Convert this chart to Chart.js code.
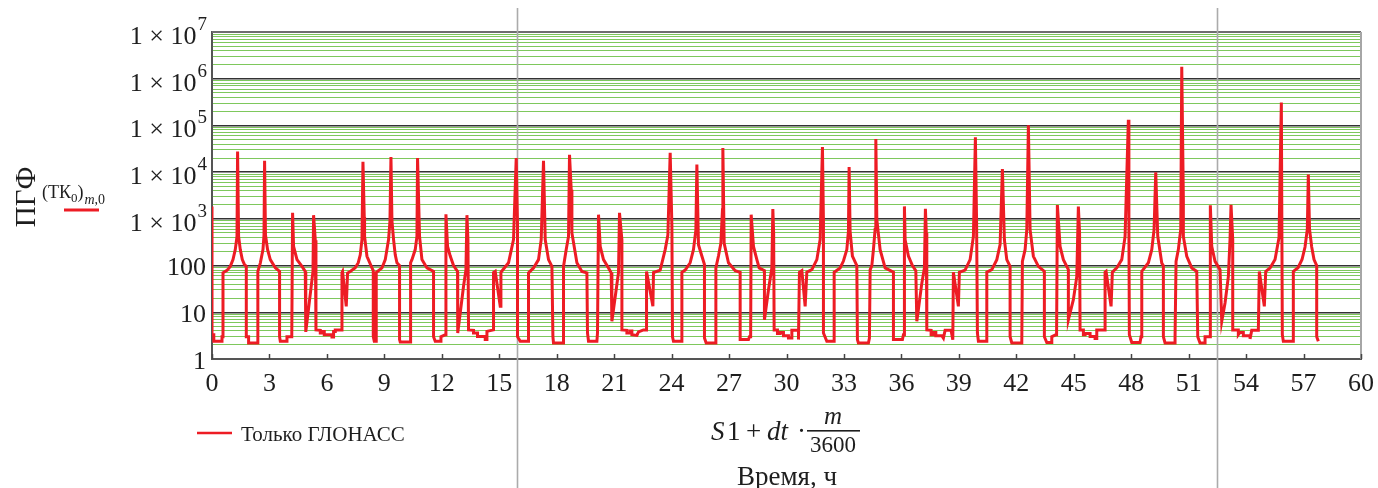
<!DOCTYPE html>
<html>
<head>
<meta charset="utf-8">
<script src="https://cdn.jsdelivr.net/npm/chart.js@4.4.1/dist/chart.umd.min.js"></script>
<style>
  html, body { margin: 0; padding: 0; background: #ffffff; }
  #wrap { width: 1378px; height: 488px; position: relative; }
  canvas { display: block; }
</style>
</head>
<body>
<div id="wrap"><canvas id="c" width="1378" height="488"></canvas></div>
<script>
// Time, hours
const timeH = [
  0.000,0.000,0.094,0.094,0.522,0.522,0.574,0.574,0.783,0.955,1.096,1.216,1.305,1.336,1.389,1.477,1.582,1.686,1.791,1.791,
  1.911,1.911,2.381,2.381,2.401,2.401,2.522,2.662,2.715,2.746,2.793,2.903,3.044,3.305,3.529,3.529,3.566,3.915,3.915,4.166,
  4.208,4.260,4.438,4.699,4.871,4.897,5.273,5.304,5.393,5.429,5.654,5.654,5.743,5.743,5.863,5.863,6.265,6.265,6.348,6.348,
  6.437,6.437,6.787,6.787,6.818,7.011,7.079,7.220,7.481,7.638,7.742,7.831,7.883,7.951,7.967,8.092,8.353,8.421,8.421,8.473,
  8.577,8.577,8.875,9.047,9.220,9.293,9.345,9.397,9.481,9.569,9.658,9.794,9.794,9.830,10.352,10.352,10.389,10.441,10.613,10.702,
  10.734,10.838,10.963,11.224,11.569,11.569,11.657,11.919,11.955,12.180,12.216,12.300,12.441,12.613,12.822,12.832,12.963,13.135,13.260,13.313,
  13.365,13.396,13.657,13.657,13.866,13.866,14.268,14.268,14.357,14.357,14.701,14.701,14.790,15.051,15.087,15.484,15.745,15.886,15.954,15.954,
  16.095,16.528,16.528,16.790,17.050,17.191,17.311,17.400,17.573,17.750,17.802,17.833,18.356,18.356,18.497,18.617,18.669,18.758,18.794,19.055,
  19.316,19.577,19.608,19.661,20.099,20.130,20.183,20.272,20.444,20.705,20.846,20.882,21.227,21.279,21.405,21.405,21.666,21.666,21.838,21.838,
  21.926,21.926,22.188,22.271,22.532,22.673,22.673,22.710,23.023,23.054,23.404,23.665,23.806,23.926,24.015,24.046,24.098,24.537,24.537,24.709,
  24.970,25.142,25.268,25.320,25.403,25.580,25.716,25.716,25.805,26.275,26.312,26.447,26.573,26.656,26.677,26.745,26.970,27.319,27.580,27.580,
  28.014,28.066,28.128,28.155,28.275,28.452,28.573,28.848,28.848,29.057,29.235,29.287,29.329,29.355,29.528,29.528,29.669,29.669,29.841,29.841,
  30.102,30.102,30.280,30.280,30.625,30.625,30.676,30.802,30.974,31.062,31.324,31.585,31.757,31.877,31.929,31.929,32.106,32.488,32.488,32.800,
  32.973,33.150,33.234,33.270,33.322,33.442,33.672,33.703,33.755,34.278,34.331,34.367,34.456,34.539,34.628,34.665,34.717,34.889,35.150,35.584,
  35.584,36.053,36.106,36.142,36.158,36.195,36.366,36.575,36.753,36.805,37.067,37.202,37.254,37.301,37.327,37.551,37.551,37.640,37.640,37.797,
  37.797,38.110,38.193,38.282,38.595,38.684,38.715,38.976,39.028,39.326,39.587,39.760,39.864,39.927,39.969,40.021,40.460,40.460,40.721,40.982,
  41.154,41.274,41.378,41.503,41.676,41.676,41.765,42.287,42.318,42.459,42.548,42.631,42.720,42.892,43.153,43.466,43.466,43.592,43.853,43.853,
  44.062,44.104,44.145,44.286,44.458,44.719,44.719,44.980,45.158,45.241,45.304,45.330,45.503,45.503,45.592,45.592,45.853,45.853,46.114,46.114,
  46.202,46.202,46.636,46.636,46.688,46.949,47.016,47.246,47.507,47.680,47.852,47.880,47.904,48.030,48.462,48.514,48.552,48.897,49.074,49.194,
  49.282,49.387,49.596,49.680,49.680,49.768,50.290,50.290,50.342,50.462,50.588,50.640,50.723,50.723,50.901,51.162,51.423,51.475,51.594,51.857,
  51.857,52.118,52.133,52.206,52.378,52.639,52.728,52.900,53.073,53.161,53.213,53.302,53.302,53.594,53.594,53.683,53.855,53.855,54.205,54.205,
  54.294,54.639,54.691,54.952,55.025,55.250,55.511,55.720,55.840,55.892,55.944,56.466,56.466,56.712,56.921,57.077,57.197,57.249,57.312,57.426,
  57.547,57.687,57.687,57.771
];

// PGF (TK0) m,0, Only GLONASS
const pgfGlonass = [
  1850,3.3,3.3,2.4,2.4,3.0,3.0,70,79,96,134,220,420,27800,420,220,134,107,96,3.0,
  3.0,2.2,2.2,3.0,3.0,75,113,219,450,17500,450,219,134,90,75,3.0,2.4,2.4,3.0,3.0,
  1350,257,134,96,75,3.8,75,1200,350,4.2,4.1,3.6,3.6,3.9,3.9,3.3,3.3,2.95,2.95,3.9,
  3.9,4.2,4.2,71,75,13.4,69,75,90,115,170,360,16600,1100,420,158,89,78,3.0,2.4,
  2.4,71,89,134,360,900,21000,900,360,170,115,100,2.6,2.3,2.3,3.6,115,134,220,420,
  20000,420,134,89,75,3.0,2.4,2.4,3.0,3.3,1250,257,160,100,75,3.6,9.7,36,81,1200,
  358,4.2,4.1,3.6,3.6,3.05,3.05,2.6,2.6,3.9,4.2,71,75,13.4,72,115,360,20000,740,3.0,
  2.4,2.4,70,89,134,360,17500,360,134,96,3.0,2.2,2.2,96,220,420,23500,4200,500,115,
  75,70,3.6,2.4,2.4,3.6,1230,257,134,89,70,6.4,71,1350,358,4.2,4.1,3.6,3.6,4.0,
  4.0,3.3,3.2,3.8,4.2,4.2,71,75,13.4,71,80,220,450,26000,700,3.0,2.4,2.4,72,80,
  115,220,580,14500,280,160,105,2.8,2.2,2.2,89,160,300,1570,33000,300,115,78,72,2.6,
  2.6,3.0,3.0,1230,257,134,89,78,6.9,30,89,1620,500,4.2,4.2,3.5,3.5,3.7,3.7,3.15,
  3.15,2.8,2.8,4.1,4.1,2.6,72,78,13.4,72,82,134,360,34500,900,3.6,2.4,2.4,72,89,
  125,220,540,12800,540,160,100,2.6,2.2,2.2,2.8,81,100,219,600,51000,960,219,89,72,
  2.6,2.6,3.3,3.3,1850,358,160,100,78,6.4,42,89,1650,500,4.2,4.1,3.3,3.3,3.7,3.7,
  3.15,3.15,2.8,4.1,4.1,2.6,72,13.4,72,80,134,420,56000,800,3.6,2.4,2.4,72,82,134,
  280,11600,358,134,96,3.0,2.2,2.2,123,219,586,101000,586,158,96,75,3.0,2.25,2.25,3.0,
  3.3,3.3,1970,257,134,82,6.9,18.6,58,1830,500,4.2,4.2,3.3,3.3,3.5,3.5,3.05,3.05,2.75,
  2.75,4.2,4.2,72,75,13.4,72,89,134,420,132000,800,3.3,2.25,2.25,3.0,75,115,219,586,
  9900,420,113,100,3.0,2.2,2.2,3.0,123,220,600,1800000,2800,420,158,89,75,3.0,2.2,2.2,
  3.0,3.0,1950,257,123,82,6.4,15.8,58,360,2000,360,4.2,4.2,3.3,3.7,3.7,3.15,3.15,2.7,
  4.1,4.1,75,13.4,75,89,135,400,310000,3.3,2.4,2.4,75,90,135,250,600,8900,600,250,
  135,100,3.0,2.4
];

const seriesName = 'Только ГЛОНАСС';
const xTicks = [0,3,6,9,12,15,18,21,24,27,30,33,36,39,42,45,48,51,54,57,60];
const yDecades = [1,10,100,1e3,1e4,1e5,1e6,1e7];
const yMinorMantissa = [2,3,4,5,6,7,8,9];
// vertical reference lines, hours
const markerHours = [15.94, 52.48];

const SERIF = '"Liberation Serif", "DejaVu Serif", serif';
const RED = '#ed1c24';
const GRID_GREEN = 'rgb(126,200,92)';
const GRID_MAJOR = '#333333';

// grid values of the log axis: every decade and its 2..9 multiples
const yGridValues = [];
yDecades.forEach((d, i) => {
  yGridValues.push(d);
  if (i < yDecades.length - 1) yMinorMantissa.forEach(m => yGridValues.push(m * d));
});
const isDecade = v => Math.abs(Math.log10(v) - Math.round(Math.log10(v))) < 1e-9;

const decor = {
  id: 'decor',
  beforeDatasetsDraw(chart) {
    const { ctx, chartArea: a, scales: { x } } = chart;
    ctx.save();
    // top and right frame
    ctx.lineWidth = 2;
    ctx.strokeStyle = '#6e6e6e';
    ctx.beginPath(); ctx.moveTo(a.left, a.top); ctx.lineTo(a.right, a.top); ctx.stroke();
    ctx.strokeStyle = '#a6a6a6';
    ctx.beginPath(); ctx.moveTo(a.right, a.top); ctx.lineTo(a.right, a.bottom); ctx.stroke();
    // vertical markers
    ctx.strokeStyle = '#ababab';
    ctx.lineWidth = 1.6;
    markerHours.forEach(h => {
      const px = Math.round(x.getPixelForValue(h)) + 0.5;
      ctx.beginPath(); ctx.moveTo(px, 8); ctx.lineTo(px, chart.height); ctx.stroke();
    });
    ctx.restore();
  },
  afterDraw(chart) {
    const { ctx, chartArea: a, scales: { x, y } } = chart;
    ctx.save();
    ctx.fillStyle = '#1e1e1e';

    // inward tick marks on the time axis
    ctx.strokeStyle = '#444';
    ctx.lineWidth = 1.5;
    xTicks.forEach(t => {
      const px = Math.round(x.getPixelForValue(t)) + 0.5;
      ctx.beginPath(); ctx.moveTo(px, a.bottom); ctx.lineTo(px, a.bottom - 5); ctx.stroke();
    });

    // time tick labels
    ctx.font = '26px ' + SERIF;
    ctx.textAlign = 'center';
    ctx.textBaseline = 'alphabetic';
    xTicks.forEach(t => ctx.fillText(String(t), x.getPixelForValue(t), 391));

    // PGF tick labels, powers written with a raised exponent
    const rightEdge = 207;
    yDecades.forEach(v => {
      const py = y.getPixelForValue(v);
      const p = Math.round(Math.log10(v));
      ctx.textBaseline = 'middle';
      if (v < 1000) {
        ctx.font = '26px ' + SERIF;
        ctx.textAlign = 'right';
        ctx.fillText(String(v), rightEdge - 1, py + 3);
      } else {
        ctx.font = '19px ' + SERIF;
        ctx.textAlign = 'right';
        const expTxt = String(p);
        const ew = ctx.measureText(expTxt).width;
        ctx.fillText(expTxt, rightEdge, py - 7);
        ctx.font = '26px ' + SERIF;
        ctx.fillText('1 × 10', rightEdge - ew - 1, py + 5);
      }
    });

    // axis title: time expression
    ctx.textAlign = 'left';
    ctx.textBaseline = 'alphabetic';
    const base = 440;
    ctx.font = 'italic 27px ' + SERIF;
    ctx.fillText('S', 711, base);
    ctx.font = '27px ' + SERIF;
    ctx.fillText('1', 727, base);
    ctx.fillText('+', 746, base);
    ctx.font = 'italic 27px ' + SERIF;
    ctx.fillText('dt', 767, base);
    ctx.font = '27px ' + SERIF;
    ctx.fillText('·', 797, base);
    // fraction
    ctx.fillRect(807, 430, 53, 1.6);
    ctx.textAlign = 'center';
    ctx.font = 'italic 25px ' + SERIF;
    ctx.fillText('m', 833, 424);
    ctx.font = '23px ' + SERIF;
    ctx.fillText('3600', 833, 452);
    ctx.textAlign = 'left';
    ctx.font = '27px ' + SERIF;
    ctx.fillText('Время, ч', 737, 485);

    // vertical axis title
    ctx.save();
    ctx.translate(27, 197);
    ctx.rotate(-Math.PI / 2);
    ctx.textAlign = 'center';
    ctx.textBaseline = 'middle';
    ctx.font = '29px ' + SERIF;
    ctx.fillText('ПГФ', 0, 0);
    ctx.restore();

    // series name next to the vertical title
    ctx.textAlign = 'left';
    ctx.textBaseline = 'alphabetic';
    ctx.font = '18px ' + SERIF;
    let cx = 42;
    ctx.fillText('(ТК', cx, 198); cx += ctx.measureText('(ТК').width;
    ctx.font = '13px ' + SERIF;
    ctx.fillText('0', cx, 202); cx += ctx.measureText('0').width;
    ctx.font = '18px ' + SERIF;
    ctx.fillText(')', cx, 198); cx += ctx.measureText(')').width + 1;
    ctx.font = 'italic 14px ' + SERIF;
    ctx.fillText('m', cx, 204); cx += ctx.measureText('m').width;
    ctx.font = '14px ' + SERIF;
    ctx.fillText(',0', cx, 204);
    ctx.strokeStyle = RED;
    ctx.lineWidth = 3;
    ctx.beginPath(); ctx.moveTo(64, 210); ctx.lineTo(99, 210); ctx.stroke();

    // legend
    ctx.lineWidth = 2.5;
    ctx.beginPath(); ctx.moveTo(197, 433); ctx.lineTo(232, 433); ctx.stroke();
    ctx.font = '21px ' + SERIF;
    ctx.fillStyle = '#1e1e1e';
    ctx.fillText(chart.data.datasets[0].label, 241, 441);

    ctx.restore();
  }
};

const chart = new Chart(document.getElementById('c').getContext('2d'), {
  type: 'line',
  data: {
    datasets: [{
      label: seriesName,
      data: timeH.map((h, i) => ({ x: h, y: pgfGlonass[i] })),
      borderColor: RED,
      borderWidth: 3,
      pointRadius: 0,
      tension: 0,
      fill: false,
      borderJoinStyle: 'miter'
    }]
  },
  options: {
    responsive: false,
    animation: false,
    devicePixelRatio: 1,
    layout: { padding: { left: 212, right: 17, top: 32, bottom: 129 } },
    plugins: { legend: { display: false }, tooltip: { enabled: false } },
    scales: {
      x: {
        type: 'linear', min: 0, max: 60,
        ticks: { display: false, stepSize: 3 },
        grid: { display: false, drawTicks: false },
        border: { display: true, color: '#555', width: 2 }
      },
      y: {
        type: 'logarithmic', min: 1, max: 1e7,
        ticks: { display: false, autoSkip: false },
        afterBuildTicks: s => { s.ticks = yGridValues.map(v => ({ value: v })); },
        grid: {
          drawTicks: false,
          color: c => (c.tick && isDecade(c.tick.value)) ? GRID_MAJOR : GRID_GREEN,
          lineWidth: c => (c.tick && isDecade(c.tick.value)) ? 1.4 : 1
        },
        border: { display: true, color: '#555', width: 2 }
      }
    }
  },
  plugins: [decor]
});
</script>
</body>
</html>
